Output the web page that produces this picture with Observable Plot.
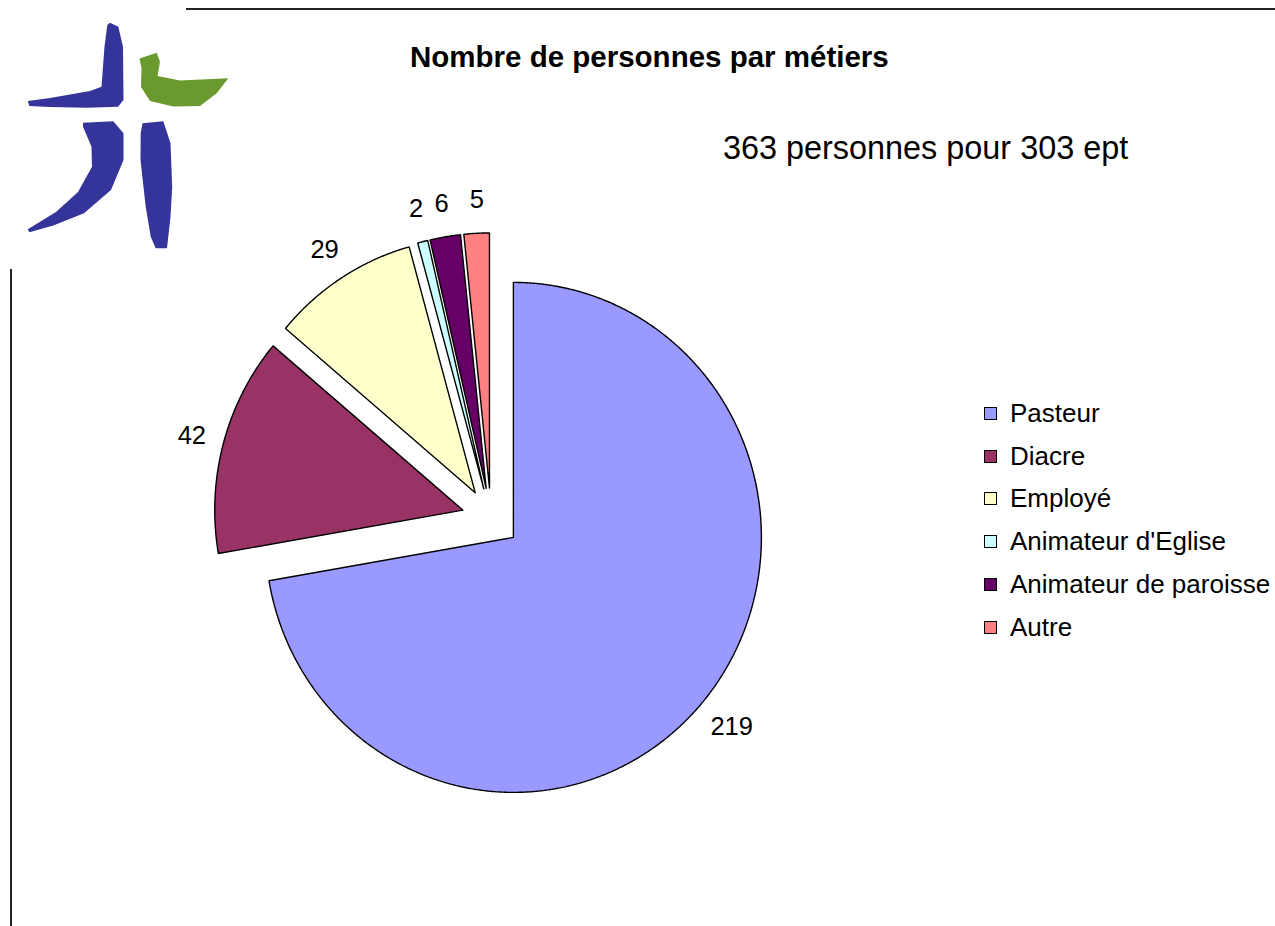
<!DOCTYPE html>
<html>
<head>
<meta charset="utf-8">
<script src="https://cdn.jsdelivr.net/npm/d3@7"></script>
<script src="https://cdn.jsdelivr.net/npm/@observablehq/plot@0.6"></script>
<style>
  html, body { margin: 0; padding: 0; background: #fff; }
  body { width: 1275px; height: 926px; position: relative; overflow: hidden; font-family: "Liberation Sans", Arial, sans-serif; }
  #chart { position: absolute; left: 0; top: 0; }
  .abs { position: absolute; white-space: nowrap; color: #000; }
  #title { left: 410px; top: 42px; font-size: 29.5px; font-weight: bold; line-height: 1; }
  #subtitle { left: 723px; top: 132px; font-size: 32.4px; line-height: 1; }
  #legend { left: 984px; top: 392px; }
  .lg { display: flex; align-items: center; height: 42.8px; font-size: 26px; }
  .sw { width: 11px; height: 11px; border: 1px solid #000; margin-right: 13px; }
</style>
</head>
<body>
<div id="chart"></div>
<svg class="abs" style="left:0;top:0" width="1275" height="926">
  <line x1="186" y1="9" x2="1275" y2="9" stroke="#222" stroke-width="2"/>
  <line x1="11" y1="269" x2="11" y2="926" stroke="#222" stroke-width="2"/>
  <path fill="#34349a" d="M110,22.7 L118.3,26.7 L123,46.7 L123.5,100 L118,106.7 L86.7,107.8 L50,107 L29.3,106 L27.8,101 L50,98 L90,91 L101.5,86.7 L104.5,46.7 L107.3,25Z"/>
  <path fill="#6a9a2e" d="M139.5,58.5 L156.7,52.7 L160,61.7 L157.5,76 L180,80.5 L228.3,78.3 L216.7,93.3 L200,106 L173.3,106.5 L150,101 L141,87 L141.5,68.3Z"/>
  <path fill="#34349a" d="M83,122.7 L113.3,121.2 L123.5,133.3 L123.5,160 L111,190 L84,213.3 L53.3,225.5 L29.3,232.2 L27.8,229.3 L56,212 L78,192 L92,166.7 L91.5,146.7 L83,126.7Z"/>
  <path fill="#34349a" d="M142.5,123.3 L163.3,121.2 L170.5,143.3 L172.2,186.7 L170.5,216.7 L167,248.3 L155.7,248.3 L150.7,236.7 L145.7,206.7 L140.5,160 L140.7,133.3Z"/>
</svg>
<div id="title" class="abs">Nombre de personnes par métiers</div>
<div id="subtitle" class="abs">363 personnes pour 303 ept</div>
<div id="legend" class="abs"></div>
<script>
// ---- data ----
const categories = ["Pasteur", "Diacre", "Employé", "Animateur d'Eglise", "Animateur de paroisse", "Autre"];
const values = [219, 42, 29, 2, 6, 5];
const colors = ["#9999ff", "#993366", "#ffffcc", "#ccffff", "#660066", "#ff8080"];

// ---- layout ----
const W = 1275, H = 926;
const cx = 490.5, cy = 517.5;   // pie centre in px
const rx = 248, ry = 255;       // px per unit radius
const explode = 0.118;          // slice offset (unit radius)
const labelR = 1.14;

const arcs = d3.pie().sort(null).value(d => d)(values);

const slices = arcs.map((a, i) => {
  const mid = (a.startAngle + a.endAngle) / 2;
  const ox = explode * Math.sin(mid), oy = explode * Math.cos(mid);
  const pts = [{x: ox, y: oy}];
  const n = Math.max(2, Math.ceil((a.endAngle - a.startAngle) / 0.005));
  for (let k = 0; k <= n; k++) {
    const t = a.startAngle + (a.endAngle - a.startAngle) * k / n;
    pts.push({x: ox + Math.sin(t), y: oy + Math.cos(t)});
  }
  pts.push({x: ox, y: oy});
  return {pts, color: colors[i], label: {x: ox + labelR * Math.sin(mid), y: oy + labelR * Math.cos(mid), text: String(values[i])}};
});

const chart = Plot.plot({
  width: W, height: H, margin: 0,
  x: {domain: [-cx / rx, (W - cx) / rx], axis: null},
  y: {domain: [(cy - H) / ry, cy / ry], axis: null},
  style: {background: "transparent", fontFamily: "'Liberation Sans', Arial, sans-serif"},
  marks: [
    ...slices.map(s => Plot.line(s.pts, {x: "x", y: "y", fill: s.color, stroke: "#000", strokeWidth: 1.4, strokeLinejoin: "miter"})),
    Plot.text(slices.map(s => s.label), {x: "x", y: "y", text: "text", fontSize: 25.5, fill: "#000", dx: 2, dy: 2})
  ]
});
document.getElementById("chart").appendChild(chart);

const legend = document.getElementById("legend");
categories.forEach((c, i) => {
  const row = document.createElement("div");
  row.className = "lg";
  const sw = document.createElement("div");
  sw.className = "sw";
  sw.style.background = colors[i];
  const t = document.createElement("span");
  t.textContent = c;
  row.appendChild(sw); row.appendChild(t);
  legend.appendChild(row);
});
</script>
</body>
</html>
